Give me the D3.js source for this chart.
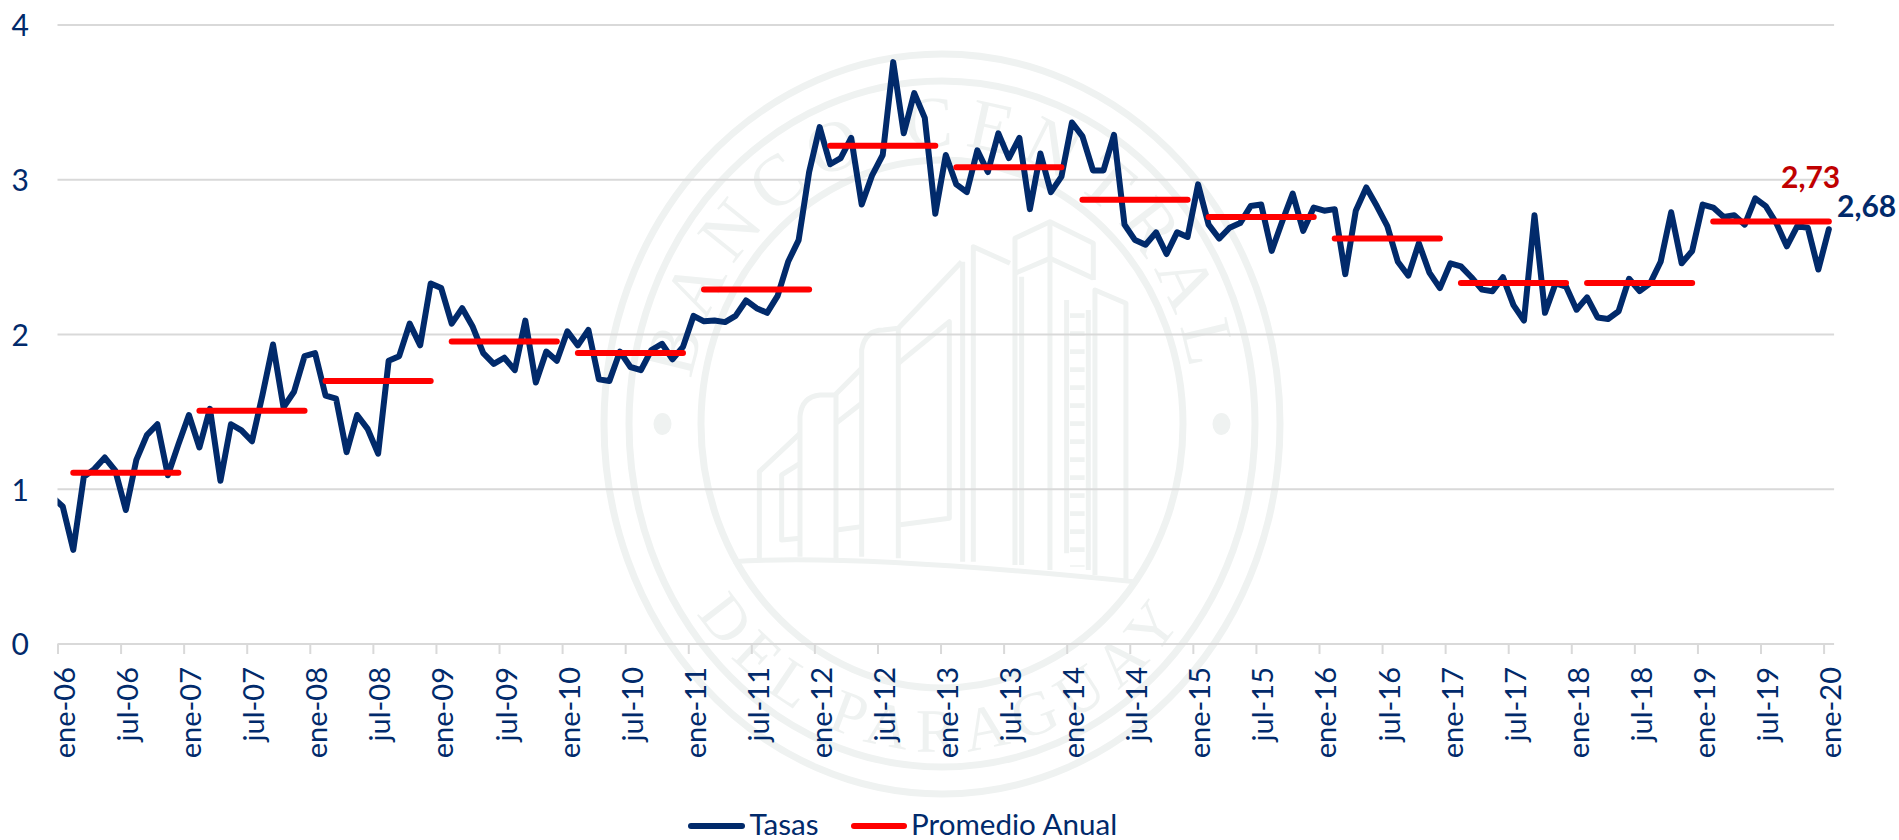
<!DOCTYPE html>
<html lang="es">
<head>
<meta charset="utf-8">
<title>Tasas y promedio anual</title>
<script src="https://cdn.jsdelivr.net/npm/d3@7/dist/d3.min.js"></script>
<style>
html,body{margin:0;padding:0;background:#fff;overflow:hidden}
svg{display:block}
text{font-family:Lato,"Noto Sans",sans-serif}
</style>
</head>
<body>
<div id="chart"></div>
<script>
// Monthly rate, dic-05 (clipped by the plot edge) through ene-20
const tasas = [0.95,
 0.888,0.608,1.08,1.13,1.205,1.12,0.866,1.19,1.35,1.42,1.09,1.29,
 1.48,1.27,1.52,1.055,1.42,1.38,1.31,1.61,1.935,1.53,1.63,1.86,
 1.88,1.605,1.585,1.24,1.48,1.39,1.23,1.83,1.86,2.07,1.93,2.33,
 2.30,2.07,2.17,2.05,1.88,1.81,1.85,1.77,2.09,1.69,1.89,1.83,
 2.02,1.93,2.03,1.71,1.70,1.89,1.79,1.77,1.90,1.94,1.84,1.92,
 2.12,2.085,2.09,2.08,2.12,2.22,2.17,2.14,2.25,2.47,2.61,3.05,
 3.34,3.10,3.14,3.27,2.84,3.03,3.16,3.76,3.30,3.56,3.40,2.78,
 3.16,2.97,2.92,3.19,3.05,3.30,3.14,3.27,2.81,3.17,2.92,3.02,
 3.37,3.28,3.06,3.06,3.29,2.71,2.61,2.58,2.66,2.52,2.66,2.63,
 2.97,2.71,2.62,2.69,2.72,2.83,2.84,2.54,2.73,2.91,2.67,2.82,
 2.80,2.81,2.39,2.80,2.95,2.83,2.70,2.47,2.38,2.59,2.40,2.30,
 2.46,2.44,2.37,2.29,2.28,2.37,2.19,2.09,2.77,2.14,2.33,2.31,
 2.16,2.24,2.11,2.10,2.15,2.36,2.28,2.33,2.47,2.79,2.46,2.54,
 2.84,2.82,2.76,2.77,2.71,2.88,2.83,2.72,2.57,2.70,2.69,2.42,
 2.68];

// Annual average, 2006 through 2019
const promedioAnual = [1.107,1.507,1.70,1.955,1.88,2.29,3.22,3.08,2.87,2.76,2.62,2.333,2.333,2.73];

// Axis labels, every six months
const etiquetasX = ["ene-06","jul-06","ene-07","jul-07","ene-08","jul-08","ene-09","jul-09","ene-10","jul-10",
 "ene-11","jul-11","ene-12","jul-12","ene-13","jul-13","ene-14","jul-14","ene-15","jul-15",
 "ene-16","jul-16","ene-17","jul-17","ene-18","jul-18","ene-19","jul-19","ene-20"];
const ticksY = [0,1,2,3,4];
const leyenda = ["Tasas","Promedio Anual"];
const valorFinalPromedio = "2,73";
const valorFinalTasa = "2,68";

const W = 1899, H = 840;
const navy = "#012a6b", rojo = "#ff0000", rojoTexto = "#c00000", gris = "#d9d9d9", sello = "#eff2f1";

const svg = d3.select("#chart").append("svg").attr("width",W).attr("height",H).attr("viewBox",`0 0 ${W} ${H}`);

const x = d3.scaleLinear().domain([0,169]).range([57.5,1834.1]);
const y = d3.scaleLinear().domain([0,4]).range([644,25]);
const fs = 29;

// ---- Watermark seal ----
const wm = svg.append("g").attr("class","sello");
const cx = 942, cy = 424;
[[338,370],[313,343],[241,264]].forEach(([rx,ry]) => {
  wm.append("ellipse").attr("cx",cx).attr("cy",cy).attr("rx",rx).attr("ry",ry)
    .attr("fill","none").attr("stroke",sello).attr("stroke-width",7);
});
[-279.5,279.5].forEach(dx => wm.append("ellipse").attr("cx",cx+dx).attr("cy",cy).attr("rx",9).attr("ry",11).attr("fill",sello));
const defs = svg.append("defs");
defs.append("path").attr("id","arcoSup").attr("d",`M${cx-253},${cy} A253,278 0 0 1 ${cx+253},${cy}`);
defs.append("path").attr("id","arcoInf").attr("d",`M${cx-300},${cy} A300,328 0 0 0 ${cx+300},${cy}`);
defs.append("clipPath").attr("id","plotClip").append("rect").attr("x",x(0)).attr("y",0).attr("width",W-x(0)).attr("height",H);
const textoArco = (id,txt,size,ls) => wm.append("text")
  .attr("font-size",size).attr("fill",sello).attr("letter-spacing",ls).style("font-family","'Liberation Serif',serif")
  .append("textPath").attr("href","#"+id).attr("startOffset","50%").attr("text-anchor","middle").text(txt);
textoArco("arcoSup","BANCO CENTRAL",72,11);
textoArco("arcoInf","DEL PARAGUAY",62,10);

const edificio = wm.append("g").attr("transform","translate(720,200) scale(0.3333)")
  .attr("fill","none").attr("stroke",sello).attr("stroke-width",15).attr("stroke-linejoin","round");
[
 "M40,1085 Q400,1060 1240,1145",
 "M118,1075 L118,815 L240,700",
 "M240,790 L185,825 L185,1020 L240,1015",
 "M240,1070 L240,650 Q245,590 300,585 L345,585 L425,505",
 "M348,1075 L348,585","M348,670 L425,610","M350,990 L425,980",
 "M425,1070 L425,450 Q435,390 490,390 L535,385 L725,185",
 "M535,1075 L535,385","M535,490 L688,365 L688,955 L535,975",
 "M728,1085 L728,185","M760,1085 L760,140 L870,190",
 "M885,1095 L885,115 L990,65 L1120,130 L1120,240",
 "M885,220 L990,175 L1120,235","M905,1095 L905,230","M990,1110 L990,65",
 "M1125,1125 L1125,270 L1218,310 L1218,1140",
 "M1040,300 L1040,1060","M1105,330 L1105,1110"
].forEach(d => edificio.append("path").attr("d",d));
edificio.append("path").attr("d","M1072,340 L1072,1100").attr("stroke-width",44).attr("stroke-dasharray","14 40");

// ---- Grid ----
svg.append("g").selectAll("line").data(ticksY).join("line")
  .attr("x1",x(0)).attr("x2",x(169)).attr("y1",d=>y(d)).attr("y2",d=>y(d))
  .attr("stroke",gris).attr("stroke-width",2);

// ---- Axes ----
const yAxis = d3.axisLeft(y).tickValues(ticksY).tickSize(0).tickPadding(0).tickFormat(d3.format("d"));
const gy = svg.append("g").attr("transform","translate(29,0)").call(yAxis);
gy.select(".domain").remove();
gy.selectAll("text").attr("font-size",fs+1).attr("fill",navy).attr("dy","0.36em").style("font-family","Lato,sans-serif");

const xAxis = d3.axisBottom(x).tickValues(etiquetasX.map((_,i)=>i*6))
  .tickSize(10).tickFormat((d)=>etiquetasX[d/6]);
const gx = svg.append("g").attr("transform","translate(0,644)").call(xAxis);
gx.select(".domain").remove();
gx.selectAll("line").attr("stroke",gris).attr("stroke-width",2);
gx.selectAll("text").attr("font-size",fs).attr("fill",navy)
  .attr("transform","translate(17,23) rotate(-90)").attr("x",0).attr("y",0).attr("dy",0)
  .attr("text-anchor","end").style("font-family","Lato,sans-serif");

// ---- Series ----
const lineGen = d3.line().x((d,i)=>x(i-0.5)).y(d=>y(d));
svg.append("path").datum(tasas).attr("clip-path","url(#plotClip)").attr("d",lineGen)
  .attr("fill","none").attr("stroke",navy).attr("stroke-width",6)
  .attr("stroke-linejoin","round").attr("stroke-linecap","round");

svg.append("g").selectAll("line").data(promedioAnual).join("line")
  .attr("x1",(d,k)=>x(12*k+1+0.5))
  .attr("x2",(d,k)=>x((k===promedioAnual.length-1?12*k+12:12*k+11)+0.5))
  .attr("y1",d=>y(d)).attr("y2",d=>y(d))
  .attr("stroke",rojo).attr("stroke-width",6).attr("stroke-linecap","round");

// ---- End labels ----
svg.append("text").attr("x",1781).attr("y",188).attr("font-size",fs+1).attr("font-weight",700)
  .attr("fill",rojoTexto).text(valorFinalPromedio);
svg.append("text").attr("x",1837).attr("y",217).attr("font-size",fs+1).attr("font-weight",700)
  .attr("fill",navy).text(valorFinalTasa);

// ---- Legend ----
const lg = svg.append("g");
[[688,745,749.5,navy],[851,907,911,rojo]].forEach(([a,b,t,c],i)=>{
  lg.append("line").attr("x1",a+3).attr("x2",b-3).attr("y1",826).attr("y2",826)
    .attr("stroke",c).attr("stroke-width",6).attr("stroke-linecap","round");
  lg.append("text").attr("x",t).attr("y",835).attr("font-size",fs+0.6).attr("fill",navy).text(leyenda[i]);
});
</script>
</body>
</html>
